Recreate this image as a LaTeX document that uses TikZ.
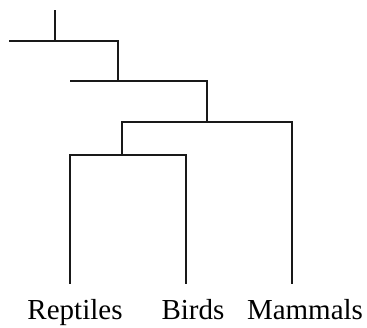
\documentclass[tikz,border=0pt]{standalone}
\usepackage{fontspec}
\setmainfont{Liberation Serif}
\begin{document}
\begin{tikzpicture}[x=1pt,y=1pt,
  branch/.style={draw=black!90,line width=2pt,line cap=rect},
  taxon/.style={anchor=base,inner sep=0pt,font=\fontsize{29}{31}\selectfont}]
\useasboundingbox (0,0) rectangle (367,327);
% root and internal points
\coordinate (root) at (54.5,316);
\coordinate (r1) at (54.5,285.5);
\coordinate (l1) at (10,285.5);
\coordinate (n1) at (118,285.5);
\coordinate (n1b) at (118,246);
\coordinate (l2) at (71,246);
\coordinate (n2) at (207,246);
\coordinate (n2b) at (207,205);
\coordinate (n3l) at (122,205);
\coordinate (n3r) at (292,205);
\coordinate (n4) at (122,171.5);
\coordinate (n4l) at (70,171.5);
\coordinate (n4r) at (185.7,171.5);
\coordinate (tR) at (70,44.3);
\coordinate (tB) at (185.7,44.3);
\coordinate (tM) at (292,44.3);
% labels
\node[taxon] (rep) at (75,8) {Reptiles};
\node[taxon] (bir) at (193,8) {Birds};
\node[taxon] (mam) at (305,8) {Mammals};
% branches
\draw[branch] (root) -- (r1);
\draw[branch] (l1) -- (n1) -- (n1b);
\draw[branch] (l2) -- (n2) -- (n2b);
\draw[branch] (n3l) -- (n3r) -- (tM);
\draw[branch] (n3l) -- (n4);
\draw[branch] (tR) -- (n4l) -- (n4r) -- (tB);
\end{tikzpicture}
\end{document}
